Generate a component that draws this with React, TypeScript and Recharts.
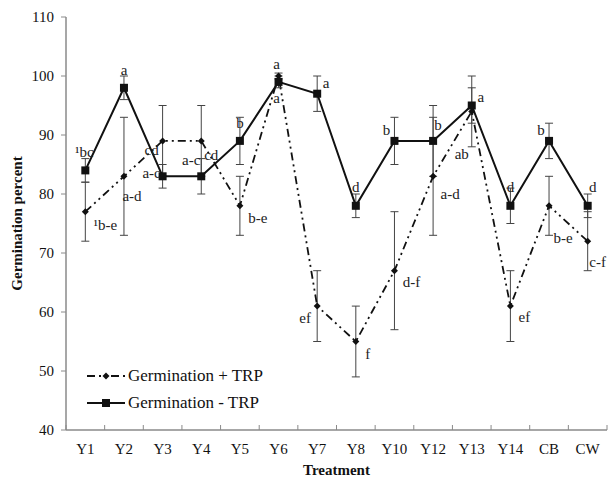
import React from 'react'
import {
  ComposedChart,
  Line,
  XAxis,
  YAxis,
  ErrorBar,
  LabelList,
  Legend,
} from 'recharts'

document.body.style.margin = '0'

const FONT = "'Liberation Serif', 'Times New Roman', Times, serif"

const categories = ['Y1', 'Y2', 'Y3', 'Y4', 'Y5', 'Y6', 'Y7', 'Y8', 'Y10', 'Y12', 'Y13', 'Y14', 'CB', 'CW']

// Germination + TRP (diamonds, dash-dot-dot line)
const plusTrp = [77, 83, 89, 89, 78, 100, 61, 55, 67, 83, 94, 61, 78, 72]
const plusErr = [5, 10, 6, 6, 5, 0.5, 6, 6, 10, 10, 6, 6, 5, 5]
const plusLetters = ['¹b-e', 'a-d', 'cd', 'a-c', 'b-e', 'a', 'ef', 'f', 'd-f', 'a-d', 'ab', 'ef', 'b-e', 'c-f']

// Germination - TRP (squares, solid line)
const minusTrp = [84, 98, 83, 83, 89, 99, 97, 78, 89, 89, 95, 78, 89, 78]
const minusErr = [2, 2, 2, 3, 4, 1, 3, 2, 4, 6, 3, 3, 3, 2]
const minusLetters = ['¹bc', 'a', 'a-c', 'cd', 'b', 'a', 'a', 'd', 'b', 'b', 'a', 'd', 'b', 'd']

const yTicks = [40, 50, 60, 70, 80, 90, 100, 110]

// where each letter sits relative to its point (label centre, px)
const PLUS_OFFSETS = [
  [20, 13], [8, 20], [-11, 9], [-10, 19], [18, 12], [-2, -12], [-12, 12],
  [12, 12], [17, 11], [17, 18], [-10, 43], [14, 11], [14, 32], [10, 21],
]
const MINUS_OFFSETS = [
  [-1, -18], [0, -18], [-11, -3], [10, -21], [0, -18], [-2, 16], [9, -11],
  [0, -19], [-8, -11], [5, -16], [9, -9], [0, -19], [-8, -11], [5, -19],
]

const DASH = '8 4 2 4 2 4'
const AXIS_GREY = '#8a8a8a'
const X_TICK_GAP = 13

const data = categories.map((name, i) => ({
  name,
  plus: plusTrp[i],
  plusErr: plusErr[i],
  plusLetter: plusLetters[i],
  minus: minusTrp[i],
  minusErr: minusErr[i],
  minusLetter: minusLetters[i],
}))

function Diamond(props: any) {
  const { cx, cy, index } = props
  if (cx == null || cy == null) return <g key={`d-${index}`} />
  const r = 3.5
  return (
    <polygon
      key={`d-${index}`}
      points={`${cx},${cy - r} ${cx + r},${cy} ${cx},${cy + r} ${cx - r},${cy}`}
      fill="#111"
    />
  )
}

function Square(props: any) {
  const { cx, cy, index } = props
  if (cx == null || cy == null) return <g key={`s-${index}`} />
  return <rect key={`s-${index}`} x={cx - 4} y={cy - 4} width={8} height={8} fill="#111" />
}

function letterLabel(offsets: number[][]) {
  return (props: any) => {
    const { x, y, value, index } = props
    const [dx, dy] = offsets[index] ?? [0, 0]
    return (
      <text
        x={x + dx}
        y={y + dy}
        textAnchor="middle"
        dominantBaseline="central"
        style={{ fontFamily: FONT, fontSize: 15 }}
        fill="#222"
      >
        {value}
      </text>
    )
  }
}

function CategoryTick(props: any) {
  const { x, y, payload, index, visibleTicksCount } = props
  const half = payload?.offset ?? 0
  const axisY = y - X_TICK_GAP
  return (
    <g>
      <line x1={x - half} x2={x - half} y1={axisY} y2={axisY - 5} stroke={AXIS_GREY} />
      {index === visibleTicksCount - 1 && (
        <line x1={x + half} x2={x + half} y1={axisY} y2={axisY - 5} stroke={AXIS_GREY} />
      )}
      <text x={x} y={y} dy="0.71em" textAnchor="middle" style={{ fontFamily: FONT, fontSize: 15 }} fill="#111">
        {payload.value}
      </text>
    </g>
  )
}

function LegendBox() {
  const row: React.CSSProperties = { display: 'flex', alignItems: 'center', height: 27 }
  const text: React.CSSProperties = { fontFamily: FONT, fontSize: 17, color: '#111', marginLeft: 3 }
  return (
    <div>
      <div style={row}>
        <svg width={38} height={12}>
          <line x1={0} x2={38} y1={6} y2={6} stroke="#111" strokeWidth={1.8} strokeDasharray={DASH} />
          <polygon points="19,2.5 22.5,6 19,9.5 15.5,6" fill="#111" />
        </svg>
        <span style={text}>Germination + TRP</span>
      </div>
      <div style={row}>
        <svg width={38} height={12}>
          <line x1={0} x2={38} y1={6} y2={6} stroke="#111" strokeWidth={2} />
          <rect x={15} y={2} width={8} height={8} fill="#111" />
        </svg>
        <span style={text}>Germination - TRP</span>
      </div>
    </div>
  )
}

export default function App() {
  return (
    <ComposedChart
      width={614}
      height={479}
      data={data}
      margin={{ top: 17, right: 7, bottom: 0, left: 0 }}
    >
      <XAxis
        dataKey="name"
        scale="band"
        height={49}
        axisLine={{ stroke: AXIS_GREY, strokeWidth: 1.5 }}
        tickLine={false}
        tickSize={0}
        tickMargin={X_TICK_GAP}
        interval={0}
        tick={<CategoryTick />}
        label={{
          value: 'Treatment',
          position: 'insideBottom',
          offset: 4,
          style: { fontFamily: FONT, fontSize: 15, fontWeight: 'bold', fill: '#111' },
        }}
      />
      <YAxis
        width={66}
        domain={[40, 110]}
        ticks={yTicks}
        interval={0}
        axisLine={{ stroke: AXIS_GREY, strokeWidth: 1.5 }}
        tickLine={{ stroke: AXIS_GREY }}
        tickSize={5}
        tickMargin={7}
        tick={{ fontFamily: FONT, fontSize: 15, fill: '#111' }}
        label={{
          value: 'Germination percent',
          angle: -90,
          position: 'insideLeft',
          offset: 17,
          style: { fontFamily: FONT, fontSize: 15, fontWeight: 'bold', fill: '#111', textAnchor: 'middle' },
        }}
      />
      <Legend
        content={<LegendBox />}
        layout="horizontal"
        verticalAlign="middle"
        align="center"
        wrapperStyle={{ left: 87, top: 362, width: 'auto' }}
      />
      <Line
        dataKey="plus"
        name="Germination + TRP"
        stroke="#111"
        strokeWidth={1.8}
        strokeDasharray={DASH}
        dot={Diamond}
        activeDot={false}
        isAnimationActive={false}
      >
        <ErrorBar dataKey="plusErr" direction="y" width={4} stroke="#444" strokeWidth={1} isAnimationActive={false} />
        <LabelList dataKey="plusLetter" content={letterLabel(PLUS_OFFSETS)} />
      </Line>
      <Line
        dataKey="minus"
        name="Germination - TRP"
        stroke="#111"
        strokeWidth={2}
        dot={Square}
        activeDot={false}
        isAnimationActive={false}
      >
        <ErrorBar dataKey="minusErr" direction="y" width={4} stroke="#444" strokeWidth={1} isAnimationActive={false} />
        <LabelList dataKey="minusLetter" content={letterLabel(MINUS_OFFSETS)} />
      </Line>
    </ComposedChart>
  )
}
